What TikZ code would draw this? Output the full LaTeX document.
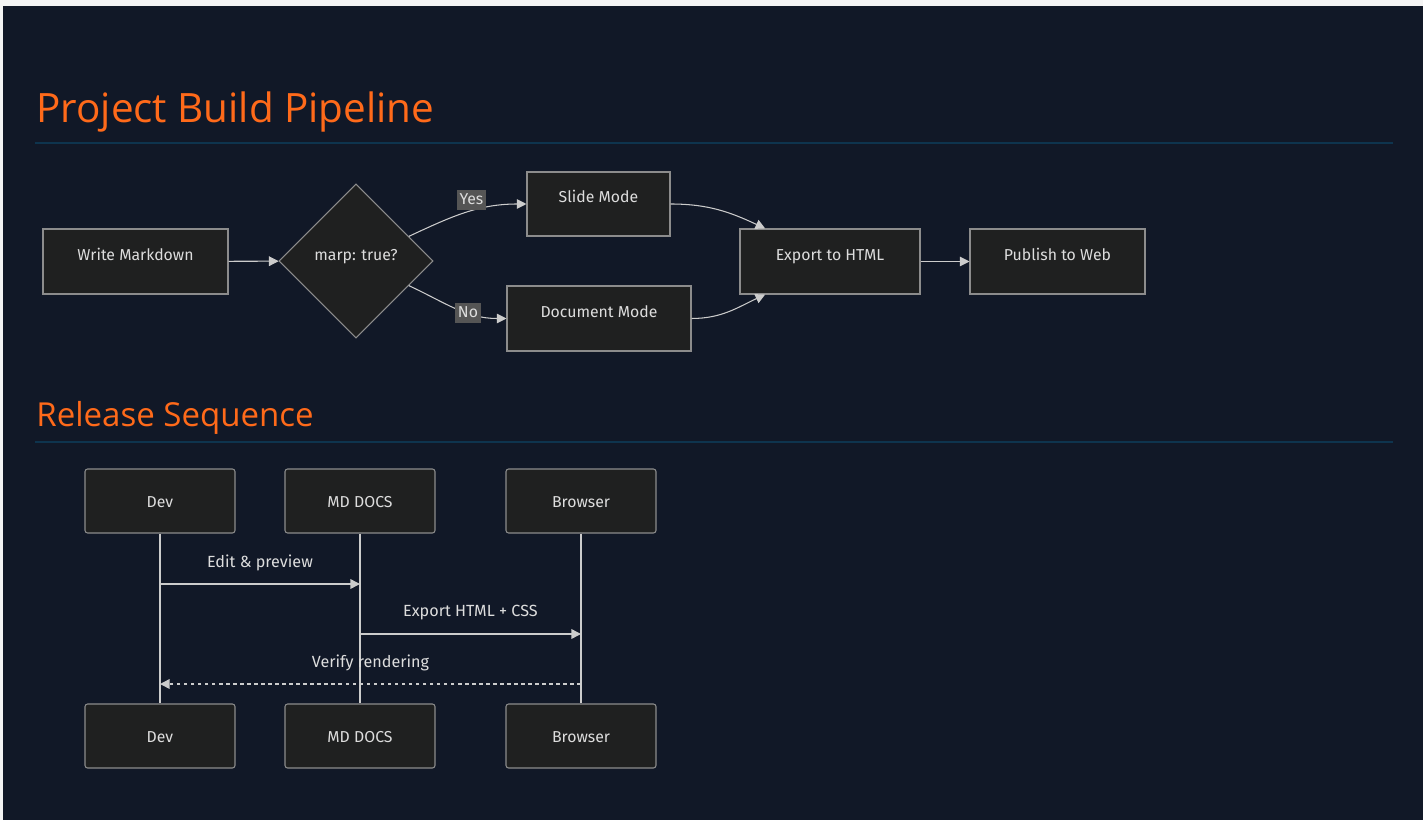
\documentclass[tikz,border=0pt]{standalone}
\usepackage{fontspec}
\setmainfont{Fira Sans}
\newfontfamily\fuenteTitulo{Open Sans}
\usepackage{xcolor}
\usetikzlibrary{shapes.geometric,arrows.meta}
\definecolor{fondoPagina}{RGB}{244,244,244}
\definecolor{fondoOscuro}{RGB}{17,24,39}
\definecolor{naranjaTitulo}{RGB}{255,106,26}
\definecolor{azulRegla}{RGB}{14,52,78}
\definecolor{cajaRelleno}{RGB}{31,32,32}
\definecolor{cajaBorde}{RGB}{140,140,140}
\definecolor{lineaClara}{RGB}{204,204,204}
\definecolor{textoClaro}{RGB}{221,221,221}
\definecolor{etiquetaFondo}{RGB}{85,85,85}

\begin{document}
\begin{tikzpicture}[
  titulo/.style={anchor=base west, inner sep=0, text=naranjaTitulo, font=\fuenteTitulo\fontsize{23}{28}\selectfont},
  subtitulo/.style={titulo, font=\fuenteTitulo\fontsize{18.8}{22}\selectfont},
  regla/.style={draw=azulRegla, line width=0.6pt},
  paso/.style={rectangle, draw=cajaBorde, fill=cajaRelleno, line width=0.6pt, minimum height=1.3cm,
    text=textoClaro, font=\fontsize{9}{11}\selectfont, text height=0.24cm, text depth=0.28cm},
  rombo/.style={diamond, aspect=1, draw=cajaBorde, fill=cajaRelleno, line width=0.6pt, inner sep=0,
    minimum width=3.08cm, minimum height=3.08cm, text=textoClaro, font=\fontsize{9}{11}\selectfont,
    text height=0.24cm, text depth=0.28cm},
  etiqueta/.style={fill=etiquetaFondo, text=textoClaro, inner sep=1.5pt, font=\fontsize{9}{11}\selectfont,
    text height=0.24cm, text depth=0.06cm},
  actor/.style={rectangle, rounded corners=1.5pt, draw=cajaBorde, fill=cajaRelleno, line width=0.6pt,
    minimum width=3cm, minimum height=1.28cm, text=textoClaro, font=\fontsize{9}{11}\selectfont,
    text height=0.32cm, text depth=0.07cm},
  flecha/.style={-{Triangle[length=5.5pt,width=5.5pt]}, draw=lineaClara, line width=0.6pt},
  vida/.style={draw=lineaClara, line width=0.85pt},
  mensaje/.style={-{Triangle[length=5.5pt,width=5.5pt]}, draw=lineaClara, line width=0.85pt},
  texto/.style={text=textoClaro, font=\fontsize{9.2}{11}\selectfont}
]
\useasboundingbox (0,0) rectangle (28.46,-16.4);
\fill[fondoPagina] (0,0) rectangle (28.46,-16.4);
\fill[fondoOscuro] (0.06,-0.12) rectangle (28.46,-16.4);

% titulos
\node[titulo] (t1) at (0.72,-2.45) {Project Build Pipeline};
\draw[regla] (0.70,-2.86) -- (27.86,-2.86);
\node[subtitulo] (t2) at (0.72,-8.52) {Release Sequence};
\draw[regla] (0.70,-8.84) -- (27.86,-8.84);

% flujo
\node[paso, minimum width=3.7cm] (write) at (2.71,-5.23) {Write Markdown};
\node[rombo] (marp) at (7.12,-5.22) {marp: true?};
\node[paso, minimum width=2.86cm, minimum height=1.28cm] (slide) at (11.97,-4.08) {Slide Mode};
\node[paso, minimum width=3.68cm] (docmode) at (11.98,-6.37) {Document Mode};
\node[paso, minimum width=3.6cm] (export) at (16.6,-5.23) {Export to HTML};
\node[paso, minimum width=3.5cm] (publish) at (21.15,-5.23) {Publish to Web};

\draw[flecha] (write) -- (marp);
\draw[flecha] (marp.25) to[out=25, in=180] node[etiqueta, pos=0.55, yshift=0.22cm] {Yes} (slide.west);
\draw[flecha] (marp.-25) to[out=-25, in=180] node[etiqueta, pos=0.63] {No} (docmode.west);
\draw[flecha] (slide.east) to[out=0, in=155] (export.153);
\draw[flecha] (docmode.east) to[out=0, in=205] (export.207);
\draw[flecha] (export) -- (publish);

% secuencia
\node[actor] (dev) at (3.2,-10.02) {Dev};
\node[actor] (md) at (7.2,-10.02) {MD DOCS};
\node[actor] (browser) at (11.62,-10.02) {Browser};
\node[actor] (devb) at (3.2,-14.72) {Dev};
\node[actor] (mdb) at (7.2,-14.72) {MD DOCS};
\node[actor] (browserb) at (11.62,-14.72) {Browser};

\draw[vida] (dev) -- (devb);
\draw[vida] (md) -- (mdb);
\draw[vida] (browser) -- (browserb);

\coordinate (d1) at (3.2,-11.68);
\coordinate (m1) at (7.2,-11.68);
\coordinate (m2) at (7.2,-12.68);
\coordinate (b2) at (11.62,-12.68);
\coordinate (b3) at (11.62,-13.68);
\coordinate (d3) at (3.2,-13.68);

\draw[mensaje] (d1) -- node[texto, midway, yshift=0.42cm] {Edit \& preview} (m1);
\draw[mensaje] (m2) -- node[texto, midway, yshift=0.42cm] {Export HTML + CSS} (b2);
\draw[mensaje, dash pattern=on 2pt off 2pt] (b3) -- node[texto, midway, yshift=0.42cm] {Verify rendering} (d3);
\end{tikzpicture}
\end{document}
